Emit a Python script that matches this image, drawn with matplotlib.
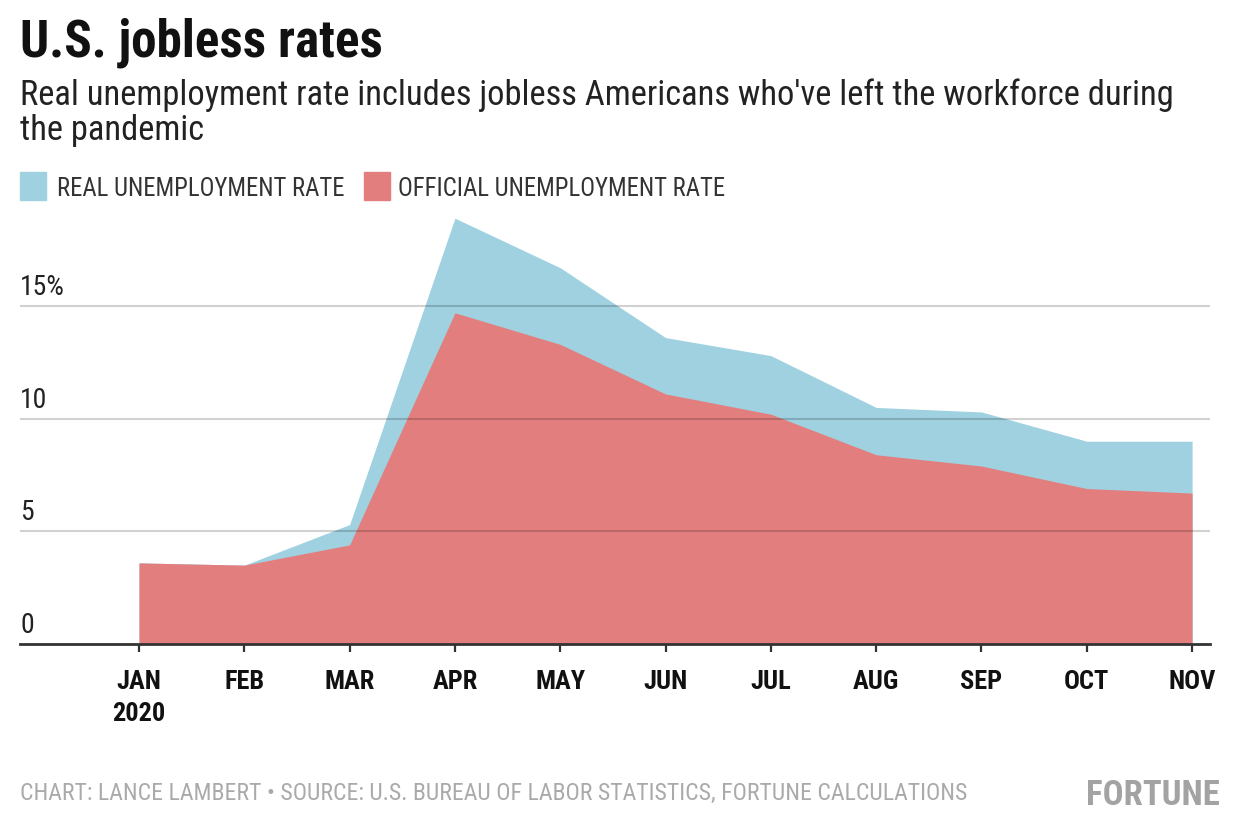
import matplotlib
matplotlib.use('Agg')
import matplotlib.pyplot as plt
from matplotlib import font_manager
from matplotlib.transforms import blended_transform_factory, offset_copy
from matplotlib.patches import Rectangle

# ---- data ----
months = ['JAN', 'FEB', 'MAR', 'APR', 'MAY', 'JUN', 'JUL', 'AUG', 'SEP', 'OCT', 'NOV']
month_labels = ['JAN\n2020', 'FEB', 'MAR', 'APR', 'MAY', 'JUN', 'JUL', 'AUG', 'SEP', 'OCT', 'NOV']
official_rate = [3.6, 3.5, 4.4, 14.7, 13.3, 11.1, 10.2, 8.4, 7.9, 6.9, 6.7]
real_rate = [3.6, 3.5, 5.3, 18.9, 16.7, 13.6, 12.8, 10.5, 10.3, 9.0, 9.0]
y_ticks = [0, 5, 10, 15]
y_tick_labels = ['0', '5', '10', '15%']

title = 'U.S. jobless rates'
subtitle1 = "Real unemployment rate includes jobless Americans who've left the workforce during"
subtitle2 = 'the pandemic'
legend_labels = ['REAL UNEMPLOYMENT RATE', 'OFFICIAL UNEMPLOYMENT RATE']
footer = 'CHART: LANCE LAMBERT \u2022 SOURCE: U.S. BUREAU OF LABOR STATISTICS, FORTUNE CALCULATIONS'
logo = 'FORTUNE'

BLUE = '#9fd1e0'
RED = '#e27f7e'

names = {f.name for f in font_manager.fontManager.ttflist}
FONT = 'DejaVu Sans'
for cand in ['Roboto Condensed', 'Liberation Sans Narrow', 'Liberation Sans', 'Roboto']:
    if cand in names:
        FONT = cand
        break
plt.rcParams['font.family'] = [FONT, 'DejaVu Sans']

W, H = 1240, 840
fig = plt.figure(figsize=(W / 100, H / 100), dpi=100)

def fx(x):
    return x / W

def fy(y):
    return 1 - y / H

# axes placement in pixels
ax_left, ax_right, ax_bottom, ax_top = 20, 1210, 644, 193.4
ax = fig.add_axes([fx(ax_left), fy(ax_bottom), (ax_right - ax_left) / W, (ax_bottom - ax_top) / H])

x = list(range(len(months)))
ax.fill_between(x, 0, real_rate, color=BLUE, linewidth=0, zorder=1)
ax.fill_between(x, 0, official_rate, color=RED, linewidth=0, zorder=2)

ax.set_xlim(-1.13, 10.17)
ax.set_ylim(0, 20)

for yv in y_ticks[1:]:
    ax.axhline(yv, color='black', alpha=0.18, linewidth=1.5, zorder=3)

for s in ['top', 'right', 'left']:
    ax.spines[s].set_visible(False)
ax.spines['bottom'].set_color('#333333')
ax.spines['bottom'].set_linewidth(2)
ax.spines['bottom'].set_zorder(5)

ax.set_yticks([])
ax.set_xticks(x)
ax.set_xticklabels(month_labels, fontweight='bold', fontsize=19, color='#111111', linespacing=1.4)
ax.tick_params(axis='x', length=6, width=1.6, color='#333333', pad=13)

trans = offset_copy(blended_transform_factory(ax.transAxes, ax.transData), fig=fig, x=0, y=11, units='dots')
for yv, lab in zip(y_ticks, y_tick_labels):
    ax.text(0, yv, lab, transform=trans, ha='left', va='baseline', fontsize=20, color='#222222')

# ---- texts ----
fig.canvas.draw()
renderer = fig.canvas.get_renderer()

def fit(t, target_w):
    bb = t.get_window_extent(renderer)
    t.set_fontsize(t.get_fontsize() * target_w / bb.width)

t_title = fig.text(fx(20), fy(57), title, fontsize=30, fontweight='bold', color='#111111', va='baseline')
fit(t_title, 363)
t_s1 = fig.text(fx(20), fy(105), subtitle1, fontsize=22, color='#222222', va='baseline')
fit(t_s1, 1155)
t_s2 = fig.text(fx(20), fy(140), subtitle2, fontsize=t_s1.get_fontsize(), color='#222222', va='baseline')

fig.patches.append(Rectangle((fx(20), fy(200)), 26 / W, 28 / H, transform=fig.transFigure, color=BLUE, figure=fig))
fig.patches.append(Rectangle((fx(364), fy(200)), 26 / W, 28 / H, transform=fig.transFigure, color=RED, figure=fig))
t_l1 = fig.text(fx(57), fy(196), legend_labels[0], fontsize=18, color='#333333', va='baseline')
fit(t_l1, 288)
t_l2 = fig.text(fx(398), fy(196), legend_labels[1], fontsize=t_l1.get_fontsize(), color='#333333', va='baseline')

t_f = fig.text(fx(20), fy(800), footer, fontsize=16, color='#aaaaaa', va='baseline')
fit(t_f, 945)
t_logo = fig.text(fx(1220), fy(805), logo, fontsize=26, fontweight='bold', color='#a3a3a3', va='baseline', ha='right')
fit(t_logo, 134)

fig.savefig('out.png', dpi=100)
